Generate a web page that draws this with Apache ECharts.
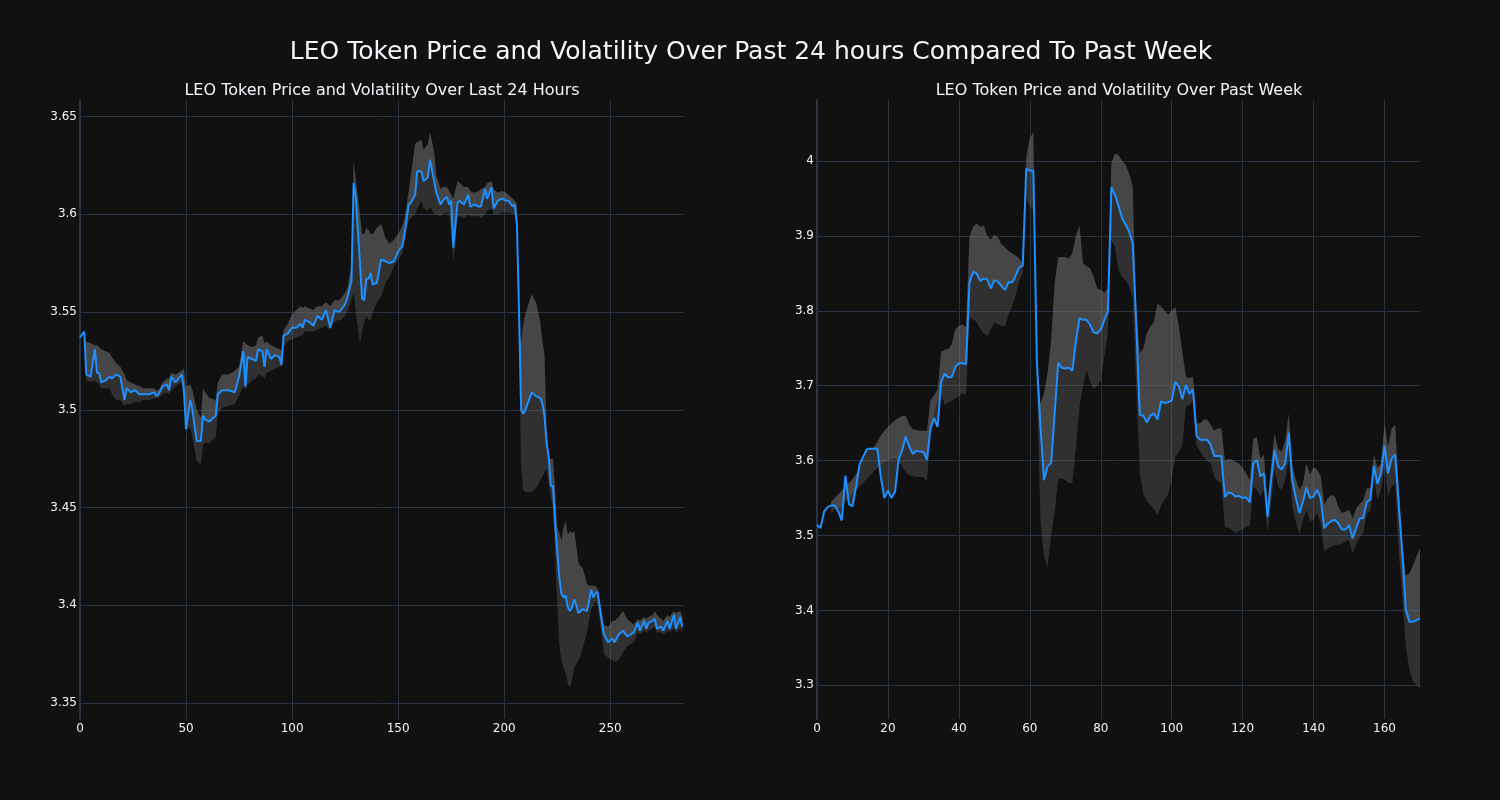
<!DOCTYPE html>
<html><head><meta charset="utf-8">
<script src="https://cdn.jsdelivr.net/npm/echarts@6/dist/echarts.min.js"></script>
<style>html,body{margin:0;padding:0;background:#111111;}#c{width:1500px;height:800px;}</style>
</head><body><div id="c"></div>
<script>
// ---- Last 24 hours (x = 5-minute step index) ----
const dayX = [0,2,3,5,7,8,9,10,12,14,15,17,19,21,22,24,26,28,30,33,35,36,37,39,41,42,43,45,48,49,
50,52,53,55,57,58,59,61,64,65,67,70,73,75,77,78,79,81,83,84,86,87,88,90,92,94,95,96,98,100,
102,104,105,106,108,110,112,114,116,118,120,122,123,125,126,128,129,130,132,133,134,135,136,137,138,140,142,144,146,148,
150,152,153,155,156,158,159,161,162,164,165,167,168,170,171,173,174,175,176,178,179,181,183,184,186,188,189,191,192,194,
195,197,199,201,202,204,205,206,207,208,209,210,212,213,215,217,218,219,220,221,222,223,224,225,226,227,228,229,230,231,
232,233,234,235,236,237,239,240,241,242,243,244,246,247,249,251,252,254,256,258,261,263,264,266,267,268,270,271,272,274,
275,277,278,280,281,283,284];
const dayPrice = [3.537,3.540,3.518,3.517,3.531,3.519,3.519,3.514,3.515,3.517,3.516,3.518,3.517,3.505,3.511,3.509,3.510,3.508,3.508,3.508,3.509,3.507,3.508,3.512,3.513,3.510,3.517,3.514,3.518,3.510,
3.490,3.505,3.500,3.484,3.484,3.497,3.495,3.494,3.497,3.508,3.510,3.510,3.509,3.517,3.530,3.512,3.527,3.526,3.525,3.531,3.530,3.522,3.531,3.526,3.528,3.527,3.523,3.538,3.539,3.542,
3.542,3.544,3.542,3.546,3.545,3.543,3.548,3.546,3.551,3.542,3.551,3.550,3.551,3.554,3.557,3.566,3.616,3.609,3.575,3.557,3.556,3.567,3.567,3.570,3.564,3.565,3.577,3.576,3.575,3.576,
3.581,3.584,3.590,3.605,3.606,3.610,3.622,3.622,3.617,3.619,3.628,3.617,3.611,3.605,3.607,3.609,3.605,3.607,3.583,3.606,3.607,3.605,3.610,3.604,3.605,3.604,3.604,3.613,3.608,3.614,
3.603,3.607,3.608,3.607,3.607,3.604,3.605,3.595,3.550,3.500,3.498,3.500,3.506,3.509,3.507,3.506,3.503,3.497,3.483,3.476,3.461,3.461,3.442,3.428,3.414,3.406,3.404,3.405,3.399,3.397,
3.399,3.403,3.400,3.396,3.397,3.398,3.397,3.402,3.408,3.404,3.406,3.407,3.392,3.385,3.381,3.383,3.381,3.385,3.387,3.384,3.386,3.391,3.387,3.392,3.388,3.391,3.392,3.393,3.388,3.389,
3.387,3.392,3.388,3.395,3.388,3.394,3.389];
const dayUpper = [null,3.536,3.535,3.534,3.533,3.533,3.532,3.531,3.530,3.529,3.527,3.524,3.522,3.518,3.515,3.514,3.513,3.512,3.511,3.511,3.511,3.510,3.510,3.514,3.516,3.516,3.519,3.518,3.520,3.521,
3.512,3.513,3.510,3.500,3.496,3.511,3.509,3.506,3.505,3.514,3.518,3.518,3.520,3.522,3.535,3.534,3.533,3.532,3.533,3.537,3.538,3.534,3.535,3.533,3.532,3.531,3.530,3.541,3.544,3.549,
3.551,3.553,3.552,3.553,3.552,3.551,3.553,3.553,3.555,3.553,3.556,3.556,3.557,3.560,3.562,3.574,3.627,3.618,3.600,3.590,3.590,3.593,3.592,3.590,3.590,3.593,3.595,3.588,3.585,3.587,
3.590,3.594,3.598,3.612,3.620,3.636,3.637,3.638,3.633,3.636,3.642,3.632,3.620,3.613,3.614,3.614,3.612,3.610,3.608,3.617,3.616,3.614,3.614,3.612,3.611,3.612,3.613,3.614,3.616,3.617,
3.613,3.611,3.612,3.611,3.610,3.608,3.607,3.605,3.540,3.535,3.544,3.549,3.556,3.559,3.555,3.545,3.535,3.528,3.490,3.474,3.475,3.475,3.460,3.440,3.437,3.433,3.440,3.443,3.436,3.438,
3.437,3.438,3.430,3.422,3.420,3.419,3.411,3.410,3.410,3.410,3.410,3.408,3.396,3.390,3.389,3.392,3.392,3.394,3.397,3.393,3.390,3.393,3.392,3.394,3.393,3.394,3.395,3.397,3.395,3.393,
3.392,3.395,3.394,3.397,3.396,3.397,3.394];
const dayLower = [null,3.535,3.515,3.514,3.515,3.514,3.513,3.511,3.511,3.511,3.508,3.505,3.505,3.502,3.503,3.503,3.504,3.504,3.505,3.505,3.506,3.506,3.506,3.508,3.509,3.508,3.510,3.512,3.514,3.506,
3.490,3.491,3.486,3.474,3.472,3.482,3.483,3.483,3.486,3.498,3.501,3.502,3.503,3.507,3.512,3.510,3.513,3.515,3.516,3.518,3.517,3.516,3.519,3.520,3.521,3.522,3.522,3.532,3.535,3.536,
3.537,3.538,3.538,3.540,3.540,3.540,3.541,3.542,3.543,3.541,3.545,3.546,3.546,3.548,3.550,3.556,3.560,3.550,3.534,3.540,3.545,3.548,3.546,3.546,3.550,3.555,3.558,3.565,3.568,3.573,
3.577,3.580,3.585,3.597,3.598,3.600,3.603,3.607,3.603,3.602,3.604,3.600,3.600,3.599,3.600,3.601,3.600,3.590,3.576,3.598,3.599,3.598,3.600,3.599,3.599,3.599,3.598,3.600,3.602,3.603,
3.600,3.600,3.601,3.601,3.601,3.600,3.600,3.590,3.530,3.470,3.459,3.458,3.458,3.458,3.460,3.464,3.466,3.468,3.470,3.462,3.455,3.450,3.425,3.400,3.380,3.372,3.368,3.365,3.360,3.358,
3.362,3.368,3.370,3.372,3.374,3.378,3.386,3.392,3.398,3.400,3.402,3.400,3.385,3.375,3.373,3.372,3.371,3.372,3.376,3.379,3.381,3.386,3.385,3.387,3.386,3.387,3.388,3.389,3.386,3.386,
3.385,3.387,3.386,3.388,3.386,3.388,3.386];

// ---- Past week (x = hourly index) ----
const weekX = [];
for (let i = 0; i <= 170; i++) weekX.push(i);
const weekPrice = [3.514,3.510,3.532,3.538,3.540,3.540,3.532,3.520,3.580,3.542,3.539,3.565,3.595,3.605,3.615,3.616,3.616,3.616,3.578,3.550,
3.560,3.550,3.558,3.601,3.614,3.632,3.619,3.609,3.613,3.612,3.612,3.601,3.643,3.657,3.645,3.705,3.716,3.711,3.712,3.725,
3.730,3.730,3.729,3.838,3.852,3.850,3.840,3.843,3.842,3.830,3.841,3.839,3.833,3.828,3.838,3.838,3.847,3.858,3.860,3.990,
3.987,3.987,3.730,3.645,3.574,3.592,3.597,3.663,3.731,3.724,3.723,3.724,3.720,3.760,3.790,3.788,3.788,3.781,3.771,3.770,
3.775,3.788,3.799,3.965,3.955,3.940,3.924,3.915,3.906,3.890,3.783,3.661,3.660,3.651,3.660,3.663,3.655,3.679,3.677,3.678,
3.680,3.705,3.699,3.682,3.701,3.689,3.695,3.633,3.628,3.628,3.628,3.621,3.606,3.606,3.606,3.551,3.558,3.556,3.552,3.553,
3.550,3.551,3.544,3.596,3.601,3.579,3.583,3.525,3.574,3.614,3.592,3.588,3.596,3.637,3.574,3.550,3.530,3.545,3.564,3.550,
3.552,3.561,3.550,3.510,3.516,3.519,3.521,3.516,3.508,3.508,3.514,3.496,3.510,3.523,3.523,3.545,3.548,3.593,3.569,3.583,
3.620,3.583,3.603,3.608,3.543,3.476,3.401,3.385,3.385,3.387,3.389];
const weekUpper = [null,null,null,null,3.545,3.550,3.555,3.560,3.566,3.570,3.575,3.582,3.590,3.597,3.603,3.610,3.618,3.625,3.634,3.640,
3.645,3.650,3.654,3.657,3.660,3.660,3.648,3.642,3.641,3.640,3.640,3.640,3.681,3.687,3.695,3.745,3.748,3.749,3.755,3.775,
3.780,3.782,3.778,3.899,3.912,3.917,3.912,3.914,3.900,3.895,3.902,3.898,3.889,3.885,3.880,3.877,3.874,3.870,3.863,4.006,
4.030,4.039,3.734,3.676,3.690,3.717,3.760,3.837,3.872,3.872,3.872,3.870,3.877,3.900,3.914,3.863,3.860,3.857,3.845,3.830,
3.828,3.824,3.830,3.997,4.010,4.008,4.000,3.995,3.983,3.966,3.800,3.743,3.750,3.770,3.779,3.785,3.810,3.805,3.800,3.795,
3.800,3.805,3.780,3.745,3.712,3.710,3.712,3.650,3.650,3.655,3.655,3.648,3.640,3.643,3.643,3.600,3.602,3.601,3.598,3.596,
3.590,3.583,3.574,3.630,3.631,3.603,3.608,3.538,3.592,3.636,3.615,3.612,3.627,3.663,3.592,3.575,3.561,3.569,3.596,3.581,
3.591,3.588,3.579,3.541,3.550,3.554,3.552,3.538,3.530,3.532,3.534,3.523,3.536,3.542,3.547,3.563,3.563,3.608,3.590,3.596,
3.650,3.619,3.643,3.648,3.560,3.490,3.447,3.449,3.460,3.472,3.483];
const weekLower = [null,null,null,null,3.530,3.535,3.535,3.540,3.545,3.550,3.555,3.560,3.565,3.570,3.575,3.580,3.585,3.590,3.595,3.598,
3.600,3.602,3.603,3.600,3.592,3.585,3.580,3.580,3.578,3.578,3.578,3.572,3.640,3.663,3.680,3.690,3.674,3.678,3.680,3.683,
3.686,3.690,3.688,3.792,3.788,3.785,3.776,3.770,3.766,3.775,3.785,3.782,3.780,3.779,3.795,3.806,3.820,3.840,3.850,3.950,
3.939,3.935,3.700,3.520,3.472,3.458,3.500,3.530,3.576,3.576,3.574,3.570,3.570,3.618,3.672,3.700,3.721,3.705,3.696,3.700,
3.707,3.739,3.770,3.894,3.886,3.855,3.845,3.841,3.832,3.818,3.700,3.583,3.555,3.545,3.541,3.535,3.527,3.540,3.548,3.555,
3.574,3.605,3.612,3.620,3.672,3.674,3.680,3.621,3.612,3.605,3.600,3.596,3.578,3.572,3.570,3.512,3.510,3.508,3.503,3.506,
3.508,3.512,3.512,3.565,3.561,3.552,3.561,3.503,3.543,3.587,3.565,3.561,3.574,3.603,3.538,3.518,3.501,3.521,3.534,3.519,
3.521,3.530,3.516,3.479,3.483,3.485,3.487,3.488,3.489,3.492,3.494,3.476,3.489,3.497,3.503,3.530,3.532,3.574,3.547,3.561,
3.592,3.552,3.565,3.570,3.480,3.418,3.352,3.321,3.305,3.300,3.296];

const dayXTicks = [0,50,100,150,200,250];
const dayYTicks = [3.35,3.4,3.45,3.5,3.55,3.6,3.65];
const weekXTicks = [0,20,40,60,80,100,120,140,160];
const weekYTicks = [3.3,3.4,3.5,3.6,3.7,3.8,3.9,4];

const mainTitle = 'LEO Token Price and Volatility Over Past 24 hours Compared To Past Week';
const leftTitle = 'LEO Token Price and Volatility Over Last 24 Hours';
const rightTitle = 'LEO Token Price and Volatility Over Past Week';

const FONT = '"DejaVu Sans", Verdana, sans-serif';
const TXT = '#f2f5fa';
const GRIDC = '#283442';
const FILL = 'rgba(128,128,128,0.4)';
const BLUE = '#1e90ff';

// data rows are [value, x] so that the y value is the stacked dimension
function pairs(xs, arr) { return xs.map((x, i) => [arr[i] == null ? null : arr[i], x]); }
function diff(xs, a, b) { return xs.map((x, i) => [(a[i] == null || b[i] == null) ? null : +(a[i] - b[i]).toFixed(4), x]); }

function seriesFor(idx, xs, price, upper, lower) {
  const hidden = { opacity: 0, width: 0 };
  const common = { type: 'line', xAxisIndex: idx, yAxisIndex: idx, symbol: 'none', silent: true, animation: false,
    stackStrategy: 'all', encode: { x: 1, y: 0 } };
  return [
    Object.assign({}, common, { name: 'lowerBase' + idx, stack: 'A' + idx, data: pairs(xs, lower), lineStyle: hidden }),
    Object.assign({}, common, { name: 'band' + idx, stack: 'A' + idx, data: diff(xs, upper, lower), lineStyle: hidden, areaStyle: { color: FILL } }),
    Object.assign({}, common, { name: 'priceBase' + idx, stack: 'B' + idx, data: pairs(xs, price), lineStyle: hidden }),
    Object.assign({}, common, { name: 'upperFill' + idx, stack: 'B' + idx, data: diff(xs, upper, price), lineStyle: hidden, areaStyle: { color: FILL } }),
    Object.assign({}, common, { name: 'price' + idx, data: pairs(xs, price), lineStyle: { color: BLUE, width: 2 }, z: 5 })
  ];
}

function xAxisFor(idx, max, ticks) {
  return {
    type: 'value', gridIndex: idx, min: 0, max: max,
    axisLine: { show: false },
    axisTick: { show: false, customValues: ticks },
    axisLabel: { customValues: ticks, color: TXT, fontSize: 12, fontFamily: FONT, margin: 4 },
    splitLine: { show: true, lineStyle: { color: GRIDC, width: 1 } }
  };
}
function yAxisFor(idx, min, max, ticks) {
  return {
    type: 'value', gridIndex: idx, min: min, max: max,
    axisLine: { show: true, lineStyle: { color: GRIDC, width: 2 } },
    axisTick: { show: false, customValues: ticks },
    axisLabel: { customValues: ticks, color: TXT, fontSize: 12, fontFamily: FONT, margin: 3 },
    splitLine: { show: true, lineStyle: { color: GRIDC, width: 1 } }
  };
}

const chart = echarts.init(document.getElementById('c'), null, { renderer: 'canvas' });
chart.setOption({
  backgroundColor: '#111111',
  animation: false,
  title: [
    { text: mainTitle, left: 746, top: 35, textAlign: 'center', textStyle: { color: TXT, fontSize: 25, fontWeight: 'normal', fontFamily: FONT } },
    { text: leftTitle, left: 377, top: 78, textAlign: 'center', textStyle: { color: TXT, fontSize: 16, fontWeight: 'normal', fontFamily: FONT } },
    { text: rightTitle, left: 1114, top: 78, textAlign: 'center', textStyle: { color: TXT, fontSize: 16, fontWeight: 'normal', fontFamily: FONT } }
  ],
  grid: [
    { left: 80, top: 100, width: 603, height: 619, containLabel: false },
    { left: 817, top: 100, width: 603, height: 619, containLabel: false }
  ],
  xAxis: [xAxisFor(0, 284.3, dayXTicks), xAxisFor(1, 170, weekXTicks)],
  yAxis: [yAxisFor(0, 3.3418, 3.6585, dayYTicks), yAxisFor(1, 3.255, 4.0815, weekYTicks)],
  series: [].concat(
    seriesFor(0, dayX, dayPrice, dayUpper, dayLower),
    seriesFor(1, weekX, weekPrice, weekUpper, weekLower)
  )
});
</script></body></html>
